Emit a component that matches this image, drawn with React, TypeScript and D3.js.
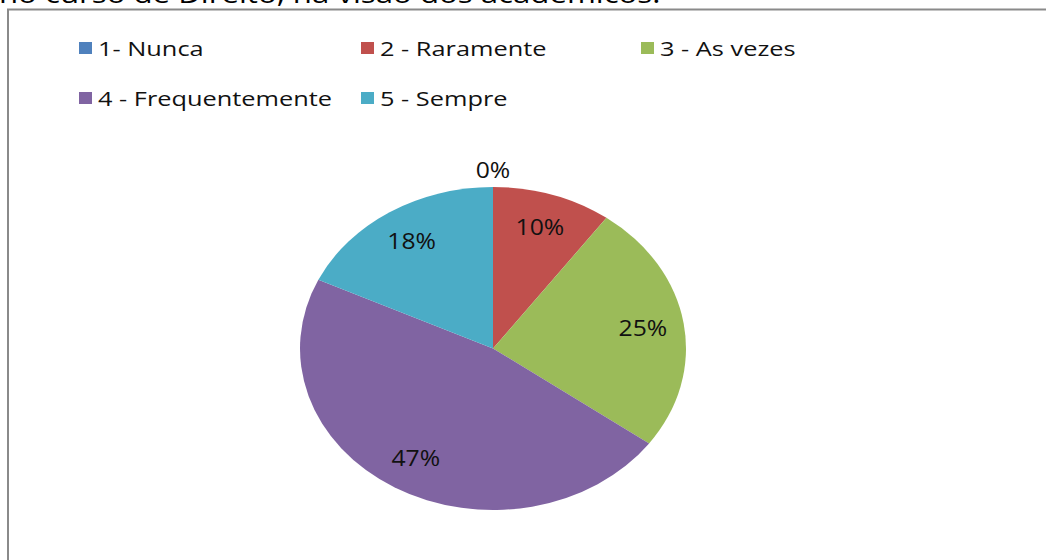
import React from "react";
import * as d3 from "d3";

const categories = ["1- Nunca", "2 - Raramente", "3 - As vezes", "4 - Frequentemente", "5 - Sempre"];
const values = [0, 10, 25, 47, 18];
const labels = ["0%", "10%", "25%", "47%", "18%"];
const colors = ["#4F81BD", "#C0504D", "#9BBB59", "#8064A2", "#4BACC6"];
const titleText = "no curso de Direito, na visão dos acadêmicos.";

const W = 1046;
const H = 560;
const SX = 1.195;
const CX = 493;
const CY = 348.5;
const R = 161.5;
const FONT = "'Open Sans', 'DejaVu Sans', sans-serif";

export default function App() {
  const pie = d3.pie<number>().sort(null).value((d) => d)(values);
  const arc = d3.arc<d3.PieArcDatum<number>>().innerRadius(0).outerRadius(R);
  const labelArc = d3.arc<d3.PieArcDatum<number>>().innerRadius(127).outerRadius(127);
  const outerLabelArc = d3.arc<d3.PieArcDatum<number>>().innerRadius(178).outerRadius(178);

  const legendPos = [
    [79, 42],
    [361, 42],
    [641, 42],
    [79, 92],
    [361, 92],
  ];

  return (
    <svg
      width={W}
      height={H}
      style={{ position: "absolute", left: 0, top: 0, background: "#fff" }}
    >
      <g transform={`translate(-1,3) scale(1.2,1)`}>
        <text x={0} y={0} fontFamily={FONT} fontSize={26} fill="#000">
          {titleText}
        </text>
      </g>
      <rect x={8} y={9.5} width={1100} height={600} fill="#fff" stroke="#8a8a8a" strokeWidth={2} />
      {categories.map((c, i) => (
        <g key={c}>
          <rect x={legendPos[i][0]} y={legendPos[i][1]} width={13} height={12} fill={colors[i]} />
          <g transform={`translate(${legendPos[i][0] + 19},${legendPos[i][1] + 13.5}) scale(1.3,1)`}>
            <text x={0} y={0} fontFamily={FONT} fontSize={19.5} fill="#111">
              {c}
            </text>
          </g>
        </g>
      ))}
      <g transform={`translate(${CX},${CY})`}>
        {pie.map((p, i) => (
          <path key={i} d={arc(p) || ""} fill={colors[i]} transform={`scale(${SX},1)`} />
        ))}
        {pie.map((p, i) => {
          const [x, y] = values[i] === 0 ? outerLabelArc.centroid(p) : labelArc.centroid(p);
          return (
            <g key={"l" + i} transform={`translate(${x * SX},${y}) scale(1.15,1)`}>
              <text
                x={0}
                y={0}
                dy="0.36em"
                textAnchor="middle"
                fontFamily={FONT}
                fontSize={21.5}
                fill="#111"
              >
                {labels[i]}
              </text>
            </g>
          );
        })}
      </g>
    </svg>
  );
}
